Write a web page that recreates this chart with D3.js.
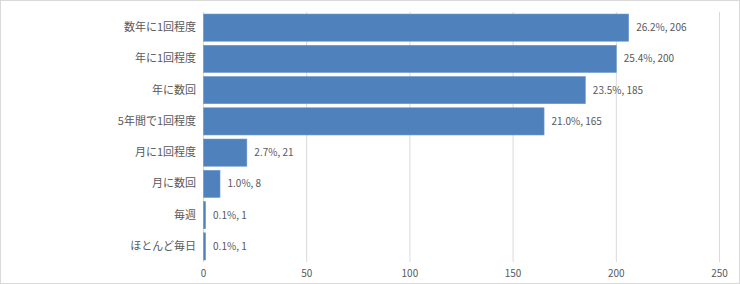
<!DOCTYPE html>
<html><head><meta charset="utf-8">
<script src="https://cdn.jsdelivr.net/npm/d3@7"></script>
<style>body{margin:0;background:#fff}svg{display:block}text{font-family:"Noto Sans CJK JP","DejaVu Sans",sans-serif;fill:#595959}</style>
</head><body><svg id="c" width="740" height="284"></svg>
<script>
const categories = ["数年に1回程度","年に1回程度","年に数回","5年間で1回程度","月に1回程度","月に数回","毎週","ほとんど毎日"];
const counts = [206,200,185,165,21,8,1,1];
const percents = ["26.2%","25.4%","23.5%","21.0%","2.7%","1.0%","0.1%","0.1%"];
const ticks = [0,50,100,150,200,250];

const svg = d3.select("#c");
svg.append("rect").attr("x",0.5).attr("y",0.5).attr("width",739).attr("height",283).attr("fill","#fff").attr("stroke","#d9d9d9");
const x = d3.scaleLinear().domain([0,250]).range([203,719]);
const y = d3.scaleBand().domain(categories).range([12,262]).paddingInner(0.13).paddingOuter(0.065);

const grid = svg.append("g");
grid.selectAll("line").data(ticks).join("line")
  .attr("x1",d=>x(d)+0.5).attr("x2",d=>x(d)+0.5).attr("y1",12).attr("y2",262)
  .attr("stroke","#d9d9d9").attr("stroke-width",1);

const xa = svg.append("g").attr("transform","translate(0,262)")
  .call(d3.axisBottom(x).tickValues(ticks).tickSize(0).tickPadding(8));
xa.select(".domain").remove();
xa.selectAll("text").attr("font-size",10).style("fill","#595959").attr("font-family",'"Noto Sans CJK JP",sans-serif');

svg.append("g").selectAll("rect").data(categories).join("rect")
  .attr("x",x(0)+0.5).attr("y",d=>y(d)).attr("height",y.bandwidth())
  .attr("width",(d,i)=>x(counts[i])-x(0))
  .attr("fill","#4f81bd").attr("stroke","#6f98cc").attr("stroke-width",0.6);

const ya = svg.append("g").attr("transform","translate(196,0)")
  .call(d3.axisLeft(y).tickSize(0).tickPadding(0));
ya.select(".domain").remove();
ya.selectAll("text").attr("font-size",11).style("fill","#595959").attr("font-family",'"Noto Sans CJK JP",sans-serif');

svg.append("g").selectAll("text").data(categories).join("text")
  .attr("x",(d,i)=>x(counts[i])+8).attr("y",d=>y(d)+y.bandwidth()/2).attr("dy","0.35em")
  .attr("font-size",10).text((d,i)=>percents[i]+", "+counts[i]);
</script></body></html>
